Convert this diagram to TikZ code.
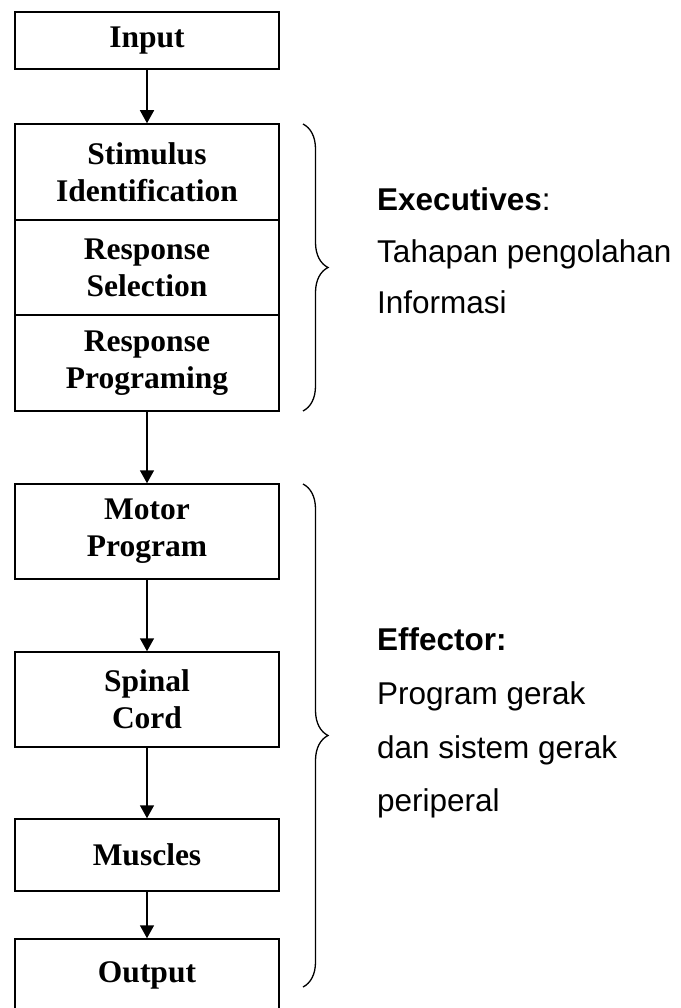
\documentclass[tikz,border=0pt]{standalone}
\usepackage{fontspec}
\setmainfont{Liberation Serif}
\newfontfamily\labelsans{Liberation Sans}
\usetikzlibrary{arrows.meta,decorations.pathreplacing}

\begin{document}
\begin{tikzpicture}[x=1pt,y=-1pt,
  stage/.style={draw, line width=1.5pt, minimum width=264pt, inner sep=0pt,
    align=center, font=\fontsize{31.5}{37}\selectfont\bfseries},
  flow/.style={-{Triangle[width=14pt,length=13pt]}, line width=1.5pt},
  grp/.style={decorate, decoration={brace, amplitude=25pt, aspect=0.5}, line width=1.3pt},
  note/.style={anchor=base west, inner sep=0pt, font=\labelsans\fontsize{31.5}{37}\selectfont}]

\useasboundingbox (0,0) rectangle (680,1008);

% processing stages
\node[stage, minimum height=57pt] (input)   at (147,40.5)  {Input};
\node[stage, minimum height=96pt] (stim)    at (147,172)   {Stimulus\\Identification};
\node[stage, minimum height=95pt] (sel)     at (147,267.5) {Response\\Selection};
\node[stage, minimum height=96pt] (prog)    at (147,363)   {Response\\Programing};
\node[stage, minimum height=95pt] (motor)   at (147,531.5) {Motor\\Program};
\node[stage, minimum height=95pt] (spinal)  at (147,699.5) {Spinal\\Cord};
\node[stage, minimum height=72pt] (muscles) at (147,855)   {Muscles};
\node[stage, minimum height=72pt] (output)  at (147,975)   {Output};

% flow between stages
\draw[flow] (input.south)   -- (stim.north);
\draw[flow] (prog.south)    -- (motor.north);
\draw[flow] (motor.south)   -- (spinal.north);
\draw[flow] (spinal.south)  -- (muscles.north);
\draw[flow] (muscles.south) -- (output.north);

% group braces
\coordinate (exectop) at (303,124);
\coordinate (execbot) at (303,411);
\coordinate (efftop)  at (303,484);
\coordinate (effbot)  at (303,987);
\draw[grp] (exectop) -- (execbot);
\draw[grp] (efftop) -- (effbot);

% group descriptions
\node[note] (exec)  at (377,211) {\textbf{Executives}:};
\node[note] (exec1) at (377,262) {Tahapan pengolahan};
\node[note] (exec2) at (377,313) {Informasi};

\node[note] (eff)  at (377,650) {\textbf{Effector:}};
\node[note] (eff1) at (377,704) {Program gerak};
\node[note] (eff2) at (377,758) {dan sistem gerak};
\node[note] (eff3) at (377,811) {periperal};
\end{tikzpicture}
\end{document}
